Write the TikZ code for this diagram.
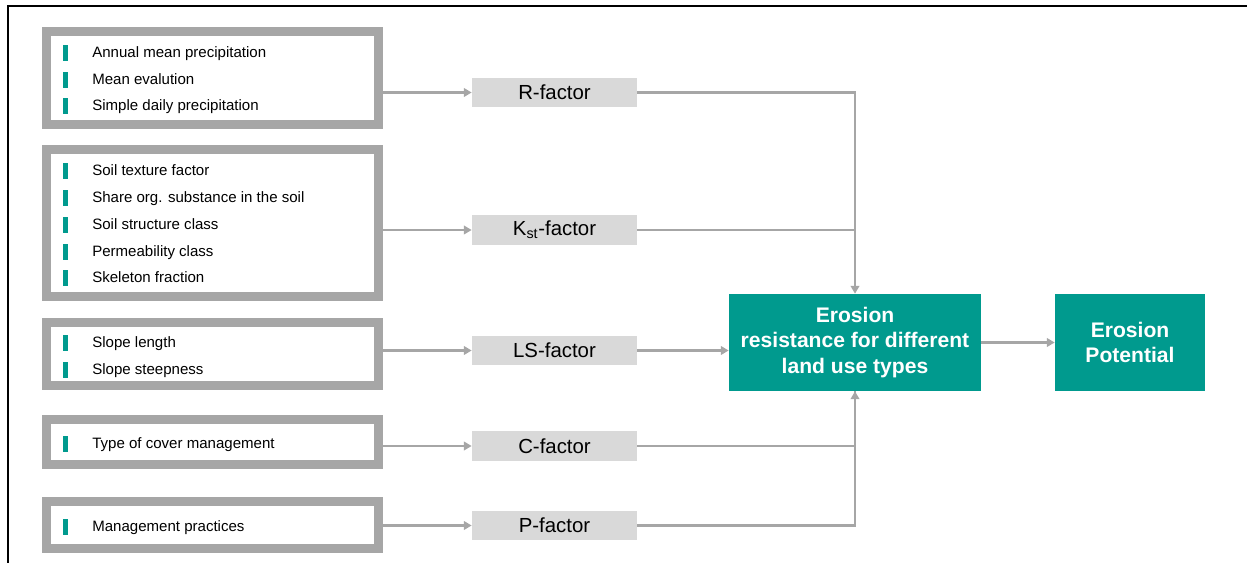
\documentclass[tikz,border=0pt]{standalone}
\usepackage{fontspec}
\setmainfont{Liberation Sans}
\usetikzlibrary{arrows.meta}
\definecolor{teal}{HTML}{009A8E}
\definecolor{framegray}{HTML}{A6A6A6}
\definecolor{facgray}{HTML}{D9D9D9}
\tikzset{
  inbox/.style={draw=framegray, line width=6.4pt, fill=white, minimum width=8.3cm, inner sep=0pt},
  facbox/.style={fill=facgray, minimum width=4.125cm, minimum height=0.725cm, inner sep=0pt, font=\fontsize{14.5}{16}\selectfont},
  tealbox/.style={fill=teal, text=white, align=center, inner sep=0pt, font=\fontsize{15}{18}\selectfont\bfseries},
  item/.style={anchor=west, inner sep=0pt, text height=7.7pt, text depth=0pt, font=\fontsize{10.7}{12}\selectfont},
  conn/.style={draw=framegray, line width=2.1pt, -{Triangle[length=5.5pt, width=6pt]}},
  link/.style={draw=framegray, line width=2.1pt}
}
\begin{document}
\begin{tikzpicture}[x=0.025cm, y=-0.025cm]
  \useasboundingbox (0,0) rectangle (1247,563);
  \draw[line width=1.4pt] (8,563) -- (8,6) -- (1247,6);
  % input boxes
  \node[inbox, minimum height=2.325cm] (in1) at (212.5,78) {};
  \node[inbox, minimum height=3.675cm] (in2) at (212.5,223) {};
  \node[inbox, minimum height=1.575cm] (in3) at (212.5,354) {};
  \node[inbox, minimum height=1.125cm] (in4) at (212.5,442) {};
  \node[inbox, minimum height=1.175cm] (in5) at (212.5,525) {};
  % bullet items
  \foreach \y/\txt [count=\i] in {52/Annual mean precipitation, 79/Mean evalution,
      105/Simple daily precipitation, 170/Soil texture factor,
      197/Share org. substance in the soil, 224/Soil structure class,
      251/Permeability class, 277/Skeleton fraction, 342/Slope length,
      369/Slope steepness, 443/Type of cover management, 526/Management practices} {
    \fill[teal] (63,\y-7) rectangle (68,\y+9);
    \node[item] (it\i) at (92,\y) {\txt};
  }
  % factors
  \node[facbox] (rf) at (554.5,92.5) {R-factor};
  \node[facbox] (kf) at (554.5,230) {K\textsubscript{st}-factor};
  \node[facbox] (lsf) at (554.5,350.5) {LS-factor};
  \node[facbox] (cf) at (554.5,446) {C-factor};
  \node[facbox] (pf) at (554.5,525.5) {P-factor};
  % results
  \node[tealbox, minimum width=6.3cm, minimum height=2.425cm] (ero) at (855,342.5)
    {Erosion\\resistance for different\\land use types};
  \node[tealbox, minimum width=3.75cm, minimum height=2.425cm] (pot) at (1130,342.5)
    {Erosion\\Potential};
  % connectors
  \foreach \a/\b in {in1/rf, in2/kf, in3/lsf, in4/cf, in5/pf}
    \draw[conn] (\a.east |- \b.west) -- (\b.west);
  \draw[conn] (rf.east) -| (ero.north);
  \draw[link] (kf.east) -- (kf.east -| ero.north);
  \draw[conn] (lsf.east) -- (lsf.east -| ero.west);
  \draw[conn] (cf.east) -| (ero.south);
  \draw[link] (pf.east) -| (ero.south);
  \draw[conn] (ero.east) -- (pot.west);
\end{tikzpicture}
\end{document}
